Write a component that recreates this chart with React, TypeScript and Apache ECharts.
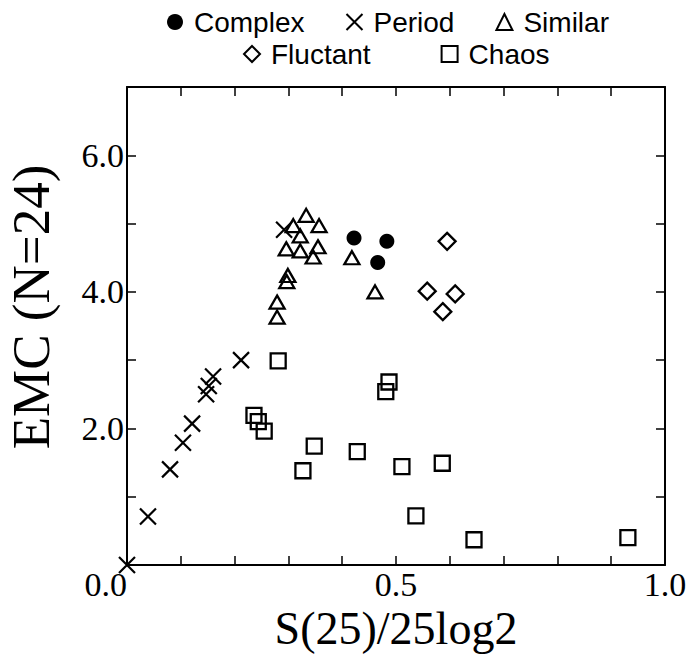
import React, { useEffect, useRef } from "react";
import * as echarts from "echarts";

const complexX = [0.422, 0.483, 0.466];
const complexY = [4.79, 4.74, 4.43];

const periodX = [0.0, 0.039, 0.08, 0.104, 0.121, 0.147, 0.152, 0.16, 0.212, 0.292];
const periodY = [0.0, 0.71, 1.4, 1.79, 2.07, 2.5, 2.62, 2.76, 3.0, 4.91];

const similarX = [0.309, 0.333, 0.357, 0.322, 0.296, 0.322, 0.355, 0.346, 0.418, 0.461, 0.299, 0.297, 0.279, 0.279];
const similarY = [4.97, 5.12, 4.97, 4.82, 4.63, 4.6, 4.66, 4.51, 4.5, 4.0, 4.24, 4.15, 3.85, 3.63];

const fluctantX = [0.595, 0.558, 0.61, 0.587];
const fluctantY = [4.74, 4.01, 3.97, 3.71];

const chaosX = [0.281, 0.236, 0.244, 0.255, 0.327, 0.348, 0.428, 0.487, 0.481, 0.511, 0.586, 0.537, 0.645, 0.931];
const chaosY = [2.99, 2.19, 2.1, 1.96, 1.38, 1.74, 1.66, 2.68, 2.54, 1.44, 1.49, 0.72, 0.37, 0.4];

const legendRow1 = ["Complex", "Period", "Similar"];
const legendRow2 = ["Fluctant", "Chaos"];

const CROSS = "path://M0,0L10,10M10,0L0,10";

const pairs = (xs: number[], ys: number[]) => xs.map((x, i) => [x, ys[i]]);

export default function App() {
  const ref = useRef<HTMLDivElement>(null);
  useEffect(() => {
    if (!ref.current) return;
    const chart = echarts.init(ref.current, undefined, { renderer: "svg" });
    const serif = "Liberation Serif";
    const sans = "Liberation Sans";
    const axisLine = { show: true, onZero: false, lineStyle: { color: "#000", width: 2 } };
    const axisTick = { show: true, inside: true, length: 9, lineStyle: { color: "#000", width: 1.5 } };
    const hollow = (w: number) => ({ color: "rgba(0,0,0,0)", borderColor: "#000", borderWidth: w, opacity: 1 });
    const legendBase = {
      orient: "horizontal",
      padding: 0,
      itemWidth: 16,
      itemHeight: 16,
      textStyle: { fontFamily: sans, fontSize: 28, color: "#000", padding: [0, 0, 0, 6] },
      selectedMode: false,
    };
    chart.setOption({
      animation: false,
      backgroundColor: "#fff",
      legend: [
        { ...legendBase, left: 167, top: 8, itemGap: 41, data: legendRow1 },
        { ...legendBase, left: 243, top: 40, itemGap: 70, data: legendRow2 },
      ],
      grid: { left: 127, right: 24, top: 87, bottom: 92, containLabel: false, outerBoundsMode: "none" },
      xAxis: [
        {
          type: "value",
          min: 0,
          max: 1,
          interval: 0.1,
          position: "bottom",
          axisLine,
          axisTick,
          splitLine: { show: false },
          axisLabel: {
            fontFamily: serif,
            fontSize: 34,
            color: "#000",
            margin: 2,
            alignMinLabel: "right",
            formatter: (v: number) => (Math.round(v * 10) % 5 === 0 ? v.toFixed(1) : ""),
          },
          name: "S(25)/25log2",
          nameLocation: "middle",
          nameGap: 38,
          nameTextStyle: { fontFamily: serif, fontSize: 46, color: "#000" },
        },
        {
          type: "value",
          min: 0,
          max: 1,
          interval: 0.1,
          position: "top",
          axisLine,
          axisTick,
          splitLine: { show: false },
          axisLabel: { show: false },
        },
      ],
      yAxis: [
        {
          type: "value",
          min: 0,
          max: 7,
          interval: 1,
          position: "left",
          axisLine,
          axisTick,
          splitLine: { show: false },
          axisLabel: {
            fontFamily: serif,
            fontSize: 34,
            color: "#000",
            margin: 3,
            formatter: (v: number) => (v > 0 && Math.round(v) % 2 === 0 ? v.toFixed(1) : ""),
          },
          name: "EMC (N=24)",
          nameLocation: "middle",
          nameGap: 70,
          nameTextStyle: { fontFamily: serif, fontSize: 53, color: "#000", padding: [0, 0, 0, 38] },
        },
        {
          type: "value",
          min: 0,
          max: 7,
          interval: 1,
          position: "right",
          axisLine,
          axisTick,
          splitLine: { show: false },
          axisLabel: { show: false },
        },
      ],
      series: [
        {
          name: "Complex",
          type: "scatter",
          clip: false,
          symbol: "circle",
          symbolSize: 15,
          itemStyle: { color: "#000", opacity: 1 },
          data: pairs(complexX, complexY),
        },
        {
          name: "Period",
          type: "scatter",
          clip: false,
          symbol: CROSS,
          symbolSize: 16,
          itemStyle: hollow(2.2),
          data: pairs(periodX, periodY),
        },
        {
          name: "Similar",
          type: "scatter",
          clip: false,
          symbol: "triangle",
          symbolSize: [15, 13],
          itemStyle: hollow(2.3),
          data: pairs(similarX, similarY),
        },
        {
          name: "Fluctant",
          type: "scatter",
          clip: false,
          symbol: "diamond",
          symbolSize: [17, 17],
          itemStyle: hollow(2.3),
          data: pairs(fluctantX, fluctantY),
        },
        {
          name: "Chaos",
          type: "scatter",
          clip: false,
          symbol: "rect",
          symbolSize: 15,
          itemStyle: hollow(2.3),
          data: pairs(chaosX, chaosY),
        },
      ],
    });
    return () => chart.dispose();
  }, []);
  return <div ref={ref} style={{ width: 689, height: 657, position: "absolute", left: 0, top: 0 }} />;
}
